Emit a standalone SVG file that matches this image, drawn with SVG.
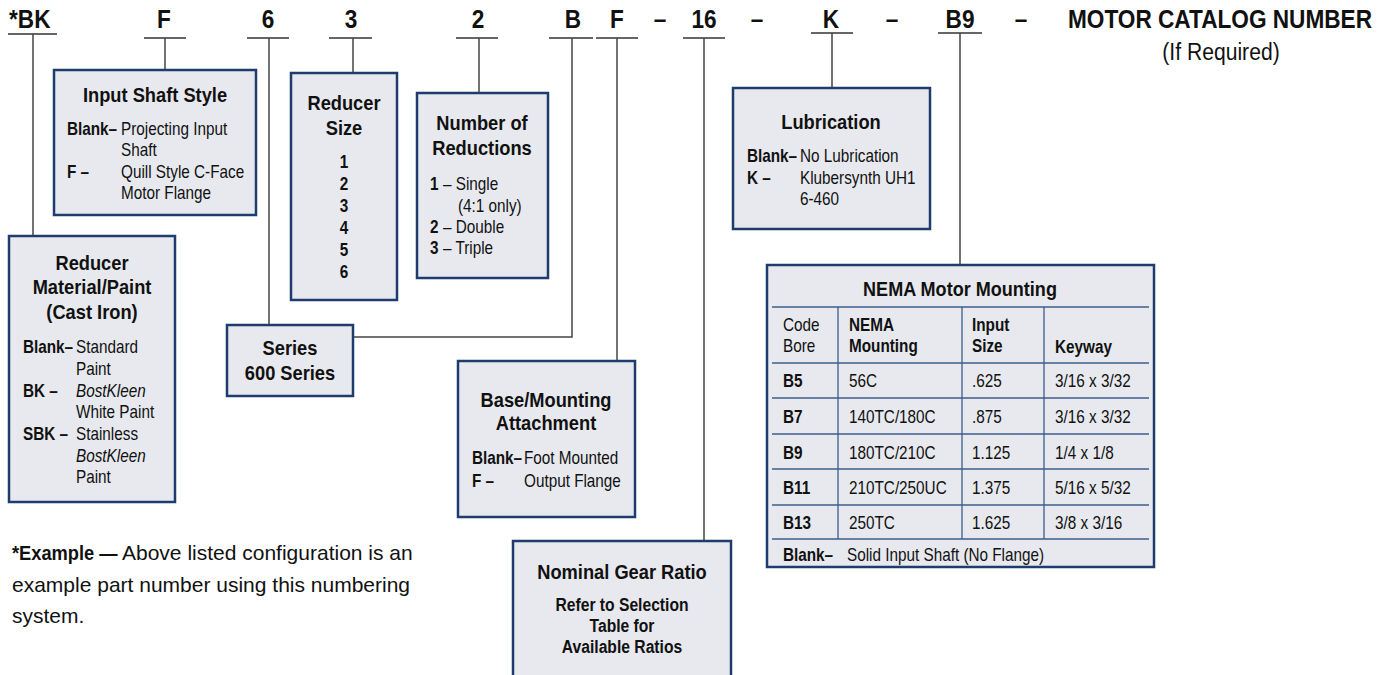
<svg xmlns="http://www.w3.org/2000/svg" width="1380" height="675" viewBox="0 0 1380 675">
<style>
.n{font-family:'Liberation Sans Narrow','Liberation Sans',Arial,sans-serif;fill:#111}
.code{font-size:26px;font-weight:bold}
.t{font-size:21px;font-weight:bold}
.b{font-size:18px}
.bb{font-size:18px;font-weight:bold}
.i{font-style:italic}
.box{fill:#e7e9ee;stroke:#1f3c6e;stroke-width:2.5}
.con{fill:none;stroke:#444;stroke-width:1.5}
.ul{stroke:#333;stroke-width:1.5}
.tl{stroke:#3d5c8c;stroke-width:1.3}
.m{text-anchor:middle}
.e{text-anchor:end}
.w{font-family:'Liberation Sans',Arial,sans-serif;font-size:21px;fill:#111}
</style>
<rect width="1380" height="675" fill="#fff"/>
<g id="codes">
<text class="n code" transform="translate(9 28) scale(.87 1)">*BK</text>
<text class="n code m" transform="translate(164 28) scale(.87 1)">F</text>
<text class="n code m" transform="translate(268 28) scale(.87 1)">6</text>
<text class="n code m" transform="translate(351 28) scale(.87 1)">3</text>
<text class="n code m" transform="translate(478 28) scale(.87 1)">2</text>
<text class="n code m" transform="translate(573 28) scale(.87 1)">B</text>
<text class="n code m" transform="translate(617 28) scale(.87 1)">F</text>
<text class="n code m" transform="translate(660 28) scale(.87 1)">–</text>
<text class="n code m" transform="translate(704 28) scale(.87 1)">16</text>
<text class="n code m" transform="translate(757 28) scale(.87 1)">–</text>
<text class="n code m" transform="translate(831 28) scale(.87 1)">K</text>
<text class="n code m" transform="translate(892 28) scale(.87 1)">–</text>
<text class="n code m" transform="translate(960 28) scale(.87 1)">B9</text>
<text class="n code m" transform="translate(1021 28) scale(.87 1)">–</text>
<text class="n code e" transform="translate(1372 28) scale(.87 1)">MOTOR CATALOG NUMBER</text>
<text class="n m" transform="translate(1221 60) scale(.88 1)" style="font-size:24px">(If Required)</text>
<line class="ul" x1="8" y1="34" x2="57" y2="34"/>
<line class="ul" x1="144" y1="38" x2="186" y2="38"/>
<line class="ul" x1="247" y1="38" x2="289" y2="38"/>
<line class="ul" x1="329" y1="38" x2="372" y2="38"/>
<line class="ul" x1="456" y1="38" x2="498" y2="38"/>
<line class="ul" x1="549" y1="38" x2="593" y2="38"/>
<line class="ul" x1="596" y1="38" x2="638" y2="38"/>
<line class="ul" x1="683" y1="38" x2="725" y2="38"/>
<line class="ul" x1="811" y1="33" x2="853" y2="33"/>
<line class="ul" x1="938" y1="33" x2="982" y2="33"/>
</g>
<g id="connectors">
<path class="con" d="M33 34V236"/>
<path class="con" d="M165 38V70"/>
<path class="con" d="M269 38V325"/>
<path class="con" d="M353 38V73"/>
<path class="con" d="M479 38V93"/>
<path class="con" d="M572 38V337H353"/>
<path class="con" d="M617 38V361"/>
<path class="con" d="M704 38V541"/>
<path class="con" d="M832 33V88"/>
<path class="con" d="M960 33V265"/>
</g>
<g id="input-shaft">
<rect class="box" x="54" y="70" width="202" height="145"/>
<text class="n t m" transform="translate(155 102) scale(.87 1)">Input Shaft Style</text>
<text class="n bb" transform="translate(67 135) scale(.85 1)">Blank–</text><text class="n b" transform="translate(121 135) scale(.85 1)">Projecting Input</text>
<text class="n b" transform="translate(121 156) scale(.85 1)">Shaft</text>
<text class="n bb" transform="translate(67 178) scale(.85 1)">F –</text><text class="n b" transform="translate(121 178) scale(.85 1)">Quill Style C-Face</text>
<text class="n b" transform="translate(121 199) scale(.85 1)">Motor Flange</text>
</g>
<g id="reducer-size">
<rect class="box" x="291" y="73" width="106" height="227"/>
<text class="n t m" transform="translate(344 110) scale(.87 1)">Reducer</text>
<text class="n t m" transform="translate(344 135) scale(.87 1)">Size</text>
<text class="n bb m" transform="translate(344 168) scale(.85 1)">1</text>
<text class="n bb m" transform="translate(344 190) scale(.85 1)">2</text>
<text class="n bb m" transform="translate(344 212) scale(.85 1)">3</text>
<text class="n bb m" transform="translate(344 234) scale(.85 1)">4</text>
<text class="n bb m" transform="translate(344 256) scale(.85 1)">5</text>
<text class="n bb m" transform="translate(344 278) scale(.85 1)">6</text>
</g>
<g id="reductions">
<rect class="box" x="417" y="93" width="131" height="185"/>
<text class="n t m" transform="translate(482 130) scale(.87 1)">Number of</text>
<text class="n t m" transform="translate(482 155) scale(.87 1)">Reductions</text>
<text class="n bb" transform="translate(430 190) scale(.85 1)">1</text><text class="n b" transform="translate(443 190) scale(.85 1)">– Single</text>
<text class="n b" transform="translate(458 212) scale(.85 1)">(4:1 only)</text>
<text class="n bb" transform="translate(430 233) scale(.85 1)">2</text><text class="n b" transform="translate(443 233) scale(.85 1)">– Double</text>
<text class="n bb" transform="translate(430 254) scale(.85 1)">3</text><text class="n b" transform="translate(443 254) scale(.85 1)">– Triple</text>
</g>
<g id="material">
<rect class="box" x="9" y="236" width="166" height="266"/>
<text class="n t m" transform="translate(92 270) scale(.87 1)">Reducer</text>
<text class="n t m" transform="translate(92 294) scale(.87 1)">Material/Paint</text>
<text class="n t m" transform="translate(92 319) scale(.87 1)">(Cast Iron)</text>
<text class="n bb" transform="translate(23 353) scale(.85 1)">Blank–</text><text class="n b" transform="translate(76 353) scale(.85 1)">Standard</text>
<text class="n b" transform="translate(76 375) scale(.85 1)">Paint</text>
<text class="n bb" transform="translate(23 397) scale(.85 1)">BK –</text><text class="n b i" transform="translate(76 397) scale(.85 1)">BostKleen</text>
<text class="n b" transform="translate(76 418) scale(.85 1)">White Paint</text>
<text class="n bb" transform="translate(23 440) scale(.85 1)">SBK –</text><text class="n b" transform="translate(76 440) scale(.85 1)">Stainless</text>
<text class="n b i" transform="translate(76 462) scale(.85 1)">BostKleen</text>
<text class="n b" transform="translate(76 483) scale(.85 1)">Paint</text>
</g>
<g id="series">
<rect class="box" x="227" y="325" width="126" height="71"/>
<text class="n t m" transform="translate(290 355) scale(.87 1)">Series</text>
<text class="n t m" transform="translate(290 380) scale(.87 1)">600 Series</text>
</g>
<g id="lubrication">
<rect class="box" x="733" y="88" width="197" height="141"/>
<text class="n t m" transform="translate(831 129) scale(.87 1)">Lubrication</text>
<text class="n bb" transform="translate(747 162) scale(.85 1)">Blank–</text><text class="n b" transform="translate(800 162) scale(.85 1)">No Lubrication</text>
<text class="n bb" transform="translate(747 184) scale(.85 1)">K –</text><text class="n b" transform="translate(800 184) scale(.85 1)">Klubersynth UH1</text>
<text class="n b" transform="translate(800 205) scale(.85 1)">6-460</text>
</g>
<g id="base-mounting">
<rect class="box" x="458" y="361" width="177" height="156"/>
<text class="n t m" transform="translate(546 407) scale(.87 1)">Base/Mounting</text>
<text class="n t m" transform="translate(546 430) scale(.87 1)">Attachment</text>
<text class="n bb" transform="translate(472 464) scale(.85 1)">Blank–</text><text class="n b" transform="translate(524 464) scale(.85 1)">Foot Mounted</text>
<text class="n bb" transform="translate(472 487) scale(.85 1)">F –</text><text class="n b" transform="translate(524 487) scale(.85 1)">Output Flange</text>
</g>
<g id="gear-ratio">
<rect class="box" x="513" y="541" width="218" height="140"/>
<text class="n t m" transform="translate(622 579) scale(.87 1)">Nominal Gear Ratio</text>
<text class="n bb m" transform="translate(622 611) scale(.87 1)">Refer to Selection</text>
<text class="n bb m" transform="translate(622 632) scale(.87 1)">Table for</text>
<text class="n bb m" transform="translate(622 653) scale(.87 1)">Available Ratios</text>
</g>
<g id="nema">
<rect class="box" x="767" y="265" width="387" height="302"/>
<text class="n t m" transform="translate(960 296) scale(.86 1)">NEMA Motor Mounting</text>
<line class="tl" x1="772" y1="307" x2="1149" y2="307"/>
<line class="tl" x1="772" y1="363" x2="1149" y2="363"/>
<line class="tl" x1="772" y1="398" x2="1149" y2="398"/>
<line class="tl" x1="772" y1="434" x2="1149" y2="434"/>
<line class="tl" x1="772" y1="469" x2="1149" y2="469"/>
<line class="tl" x1="772" y1="505" x2="1149" y2="505"/>
<line class="tl" x1="772" y1="539" x2="1149" y2="539"/>
<line class="tl" x1="838" y1="307" x2="838" y2="539"/>
<line class="tl" x1="962" y1="307" x2="962" y2="539"/>
<line class="tl" x1="1044" y1="307" x2="1044" y2="539"/>
<text class="n b" transform="translate(783 331) scale(.85 1)">Code</text><text class="n b" transform="translate(783 352) scale(.85 1)">Bore</text>
<text class="n bb" transform="translate(849 331) scale(.85 1)">NEMA</text><text class="n bb" transform="translate(849 352) scale(.85 1)">Mounting</text>
<text class="n bb" transform="translate(972 331) scale(.85 1)">Input</text><text class="n bb" transform="translate(972 352) scale(.85 1)">Size</text>
<text class="n bb" transform="translate(1055 353) scale(.85 1)">Keyway</text>
<text class="n bb" transform="translate(783 387) scale(.85 1)">B5</text><text class="n b" transform="translate(849 387) scale(.85 1)">56C</text><text class="n b" transform="translate(972 387) scale(.85 1)">.625</text><text class="n b" transform="translate(1055 387) scale(.85 1)">3/16 x 3/32</text>
<text class="n bb" transform="translate(783 423) scale(.85 1)">B7</text><text class="n b" transform="translate(849 423) scale(.85 1)">140TC/180C</text><text class="n b" transform="translate(972 423) scale(.85 1)">.875</text><text class="n b" transform="translate(1055 423) scale(.85 1)">3/16 x 3/32</text>
<text class="n bb" transform="translate(783 459) scale(.85 1)">B9</text><text class="n b" transform="translate(849 459) scale(.85 1)">180TC/210C</text><text class="n b" transform="translate(972 459) scale(.85 1)">1.125</text><text class="n b" transform="translate(1055 459) scale(.85 1)">1/4 x 1/8</text>
<text class="n bb" transform="translate(783 494) scale(.85 1)">B11</text><text class="n b" transform="translate(849 494) scale(.85 1)">210TC/250UC</text><text class="n b" transform="translate(972 494) scale(.85 1)">1.375</text><text class="n b" transform="translate(1055 494) scale(.85 1)">5/16 x 5/32</text>
<text class="n bb" transform="translate(783 529) scale(.85 1)">B13</text><text class="n b" transform="translate(849 529) scale(.85 1)">250TC</text><text class="n b" transform="translate(972 529) scale(.85 1)">1.625</text><text class="n b" transform="translate(1055 529) scale(.85 1)">3/8 x 3/16</text>
<text class="n bb" transform="translate(783 561) scale(.85 1)">Blank–</text><text class="n b" transform="translate(847 561) scale(.85 1)">Solid Input Shaft (No Flange)</text>
</g>
<g id="example-note">
<text class="n" font-weight="bold" style="font-size:21px" transform="translate(12 560) scale(.87 1)">*Example —</text>
<text class="w" x="122" y="560">Above listed configuration is an</text>
<text class="w" x="12" y="592">example part number using this numbering</text>
<text class="w" x="12" y="623">system.</text>
</g>
</svg>
